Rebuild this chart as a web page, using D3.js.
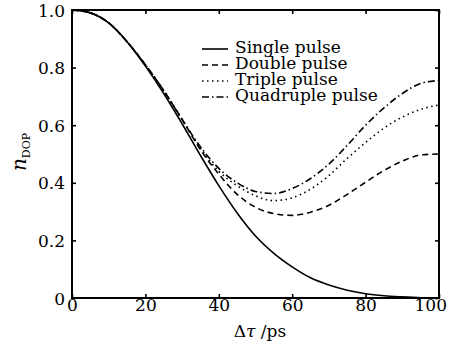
<!DOCTYPE html>
<html><head><meta charset="utf-8">
<script src="https://cdn.jsdelivr.net/npm/d3@7"></script>
</head><body style="margin:0">
<svg id="c" width="451" height="347" style="font-family:'DejaVu Serif'"></svg>
<script>
const xs = [0,5,10,15,20,25,30,35,40,45,50,55,60,65,70,75,80,85,90,95,100];
const single    = [1.0,0.99,0.955,0.89,0.805,0.71,0.605,0.495,0.39,0.295,0.215,0.155,0.108,0.07,0.045,0.027,0.015,0.008,0.004,0.001,0.0];
const double_   = [1.0,0.99,0.955,0.89,0.81,0.72,0.62,0.515,0.43,0.36,0.315,0.293,0.287,0.298,0.322,0.36,0.402,0.443,0.475,0.497,0.50];
const triple    = [1.0,0.99,0.955,0.89,0.81,0.72,0.62,0.52,0.44,0.39,0.355,0.338,0.348,0.378,0.425,0.485,0.54,0.59,0.628,0.655,0.67];
const quadruple = [1.0,0.99,0.955,0.89,0.81,0.72,0.62,0.525,0.45,0.40,0.37,0.363,0.38,0.415,0.465,0.53,0.60,0.66,0.71,0.745,0.755];
const seriesNames = ["Single pulse","Double pulse","Triple pulse","Quadruple pulse"];
const xTicks = [0,20,40,60,80,100];
const yTicks = [0,0.2,0.4,0.6,0.8,1.0];
const yTickLabels = ["0","0.2","0.4","0.6","0.8","1.0"];

const dashes = [null, "6,4", "1.5,3.5", "7,3,1.5,3"];
const allSeries = [single, double_, triple, quadruple];

const svg = d3.select("#c");
const L=72, R=439, T=10, B=298;
const x = d3.scaleLinear().domain([0,100]).range([L,R]);
const y = d3.scaleLinear().domain([0,1]).range([B,T]);
const font = "DejaVu Serif";

const line = d3.line().x((d,i)=>x(xs[i])).y(d=>y(d)).curve(d3.curveMonotoneX);
allSeries.forEach((s,k)=>{
  svg.append("path").attr("d", line(s)).attr("fill","none")
    .attr("stroke","#000").attr("stroke-width",1.6)
    .attr("stroke-dasharray", dashes[k]);
});

// axes with inward ticks
const tl = 4;
const gB = svg.append("g").attr("transform",`translate(0,${B})`)
  .call(d3.axisBottom(x).tickValues(xTicks).tickSize(-tl).tickFormat(d3.format("d")));
const gT = svg.append("g").attr("transform",`translate(0,${T})`)
  .call(d3.axisTop(x).tickValues(xTicks).tickSize(-tl).tickFormat(""));
const gL = svg.append("g").attr("transform",`translate(${L},0)`)
  .call(d3.axisLeft(y).tickValues(yTicks).tickSize(-tl).tickPadding(7).tickFormat((d,i)=>yTickLabels[i]));
const gR = svg.append("g").attr("transform",`translate(${R},0)`)
  .call(d3.axisRight(y).tickValues(yTicks).tickSize(-tl).tickFormat(""));
[gB,gT,gL,gR].forEach(g=>{
  g.attr("font-family",font).attr("font-size",17);
  g.select(".domain").remove();
  g.selectAll(".tick line").attr("stroke","#000").attr("stroke-width",1.6);
  g.selectAll("text").style("font-family",`"${font}"`).attr("font-size",17).attr("fill","#000");
});
gB.selectAll("text").attr("y",13).attr("dy",0);
gL.selectAll("text").attr("dy","0.36em");
// keep the last x label inside the picture
gB.selectAll(".tick").each(function(){
  const t = d3.select(this).select("text");
  const bb = t.node().getBBox();
  const m = this.transform.baseVal.consolidate().matrix.e;
  const over = m + bb.x + bb.width - 447;
  if (over > 0) t.attr("x", -over);
});
svg.append("rect").attr("x",L).attr("y",T).attr("width",R-L).attr("height",B-T)
  .attr("fill","none").attr("stroke","#000").attr("stroke-width",2);

// legend
const lg = svg.append("g");
seriesNames.forEach((n,k)=>{
  const yb = 53 + k*16;
  lg.append("line").attr("x1",202).attr("x2",228).attr("y1",yb-4).attr("y2",yb-4)
    .attr("stroke","#000").attr("stroke-width",1.6).attr("stroke-dasharray",dashes[k]);
  lg.append("text").attr("x",235).attr("y",yb).style("font-family",`"${font}"`)
    .attr("font-size",17).text(n);
});

// axis labels
const xl = svg.append("text").attr("x",260).attr("y",337).attr("text-anchor","middle")
  .style("font-family",`"${font}"`).attr("font-size",17);
xl.append("tspan").text("Δ");
xl.append("tspan").style("font-style","italic").text("τ");
xl.append("tspan").text(" /ps");

const yl = svg.append("text").attr("transform","translate(26,152) rotate(-90)")
  .attr("text-anchor","middle").style("font-family",`"${font}"`);
yl.append("tspan").style("font-style","italic").attr("font-size",20).text("n");
yl.append("tspan").attr("font-size",11).attr("dy",4).text("DOP");
</script>
</body></html>
